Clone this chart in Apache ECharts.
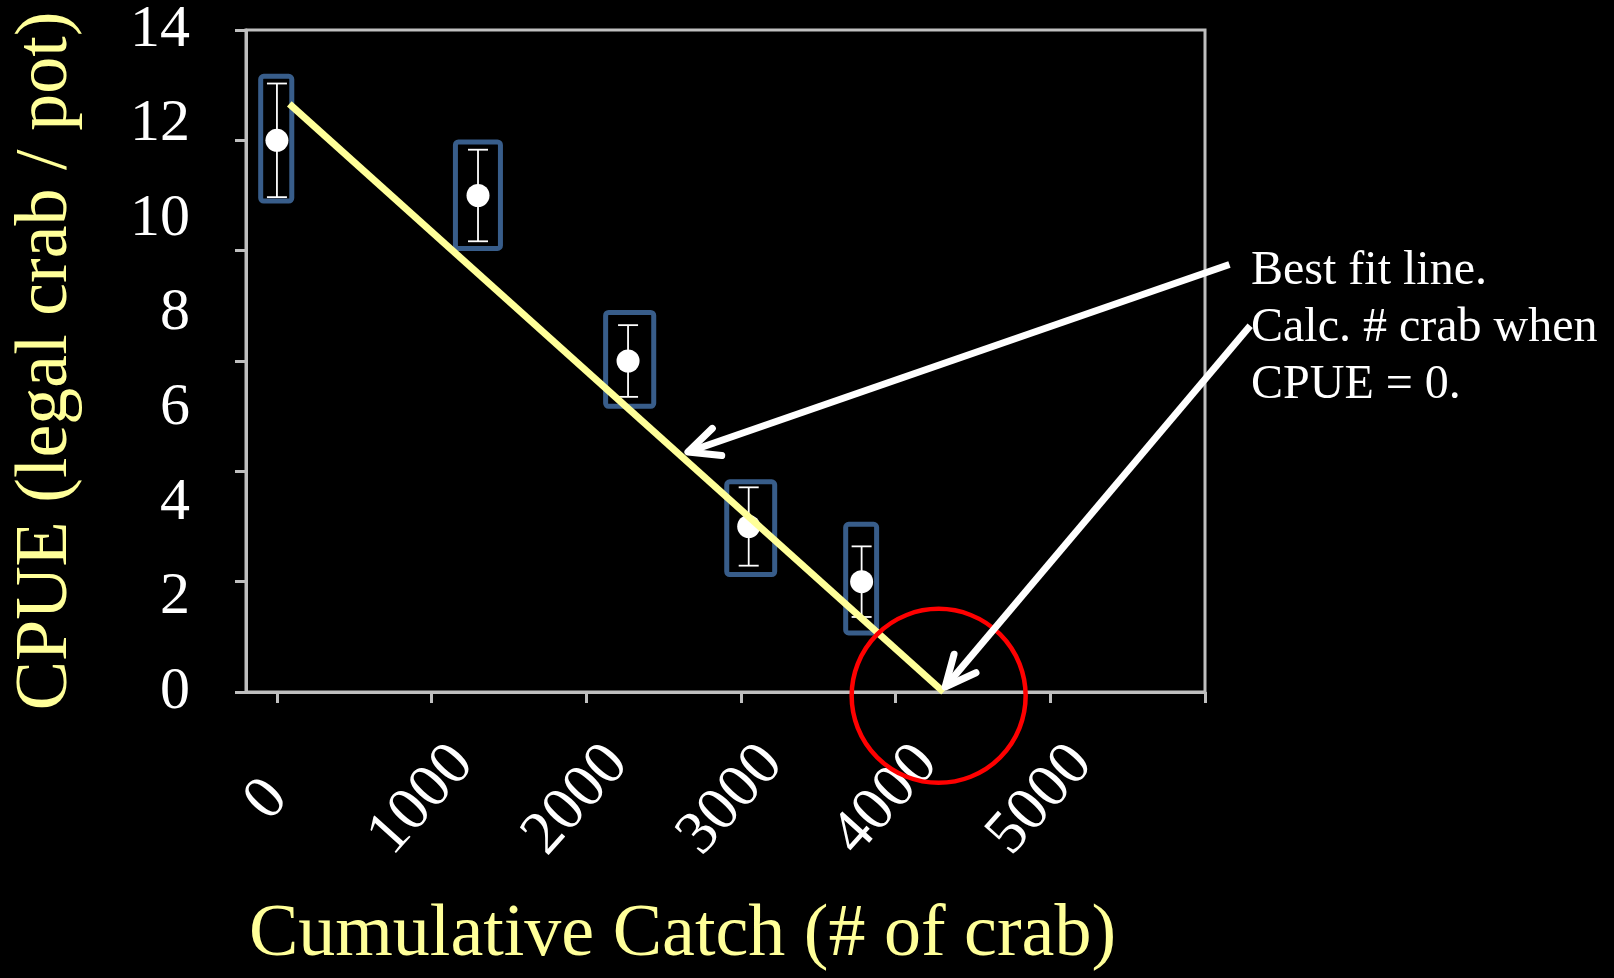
<!DOCTYPE html>
<html><head><meta charset="utf-8">
<script src="https://cdn.jsdelivr.net/npm/echarts@6/dist/echarts.min.js"></script>
<style>html,body{margin:0;padding:0;background:#000;}#chart{width:1614px;height:978px;}</style>
</head><body><div id="chart"></div>
<script>
// ---- data ----
const cumulativeCatch = [0, 1300, 2270, 3050, 3780];
const cpue = [10, 9, 6, 3, 2];
const cpueError = [1.03, 0.83, 0.65, 0.71, 0.64];
// highlight boxes around each point (data units)
const boxLeft = [-105, 1154, 2125, 2908, 3677];
const boxRight = [96, 1445, 2436, 3218, 3877];
const boxTop = [11.16, 9.97, 6.88, 3.81, 3.04];
const boxBottom = [8.90, 8.04, 5.18, 2.13, 1.07];
// hand-drawn best-fit line
const fitLineX = [80, 4310];
const fitLineY = [10.66, 0];
// tick / label values
const xTickValues = [0, 1000, 2000, 3000, 4000, 5000, 6000];
const xLabelValues = [0, 1000, 2000, 3000, 4000, 5000];
const yLabelValues = [0, 2, 4, 6, 8, 10, 12, 14];
// annotation arrows (data units)
const arrowFromX = [6158, 6292];
const arrowFromY = [7.75, 6.64];
const arrowToX = [2657, 4320];
const arrowToY = [4.35, 0.09];
// red circle centre (data units)
const circleX = [4278];
const circleY = [-0.07];
const noteLines = ['Best fit line.', 'Calc. # crab when', 'CPUE = 0.'];
const xTitle = 'Cumulative Catch (# of crab)';
const yTitle = 'CPUE (legal crab / pot)';

// ---- chart ----
const FONT = "'Liberation Serif', 'Times New Roman', serif";
const AXIS_GRAY = '#BFBFBF';
const YELLOW = '#FFFF99';
const chart = echarts.init(document.getElementById('chart'));
const points = cumulativeCatch.map((x, i) => [x, cpue[i]]);

const option = {
  backgroundColor: '#000',
  animation: false,
  grid: { left: 246, top: 25, width: 959, height: 672, show: true, borderColor: AXIS_GRAY, borderWidth: 3, backgroundColor: '#000' },
  xAxis: {
    type: 'value', min: -200, max: 6000,
    axisLine: { show: true, onZero: false, lineStyle: { color: AXIS_GRAY, width: 3 } },
    axisTick: { show: true, customValues: xTickValues, length: 11, lineStyle: { color: AXIS_GRAY, width: 3 } },
    axisLabel: { show: true, customValues: xLabelValues, rotate: 48, align: 'center', verticalAlign: 'middle', margin: 97,
      padding: [0, 30, 0, 0], color: '#fff', fontFamily: FONT, fontSize: 62, formatter: (v) => String(v) },
    splitLine: { show: false },
    name: xTitle, nameLocation: 'middle', nameGap: 207,
    nameTextStyle: { color: YELLOW, fontFamily: FONT, fontSize: 74, padding: [0, 86, 0, 0] }
  },
  yAxis: [
    {
      type: 'value', min: 0, max: 12, interval: 2,
      axisLine: { show: true, onZero: false, lineStyle: { color: AXIS_GRAY, width: 3 } },
      axisTick: { show: true, length: 11, lineStyle: { color: AXIS_GRAY, width: 3 } },
      axisLabel: { show: false },
      splitLine: { show: false },
      name: yTitle, nameLocation: 'middle', nameGap: 162,
      nameTextStyle: { color: YELLOW, fontFamily: FONT, fontSize: 74 }
    },
    {
      type: 'value', min: 0, max: 14, interval: 2, position: 'left',
      axisLine: { show: false, onZero: false }, axisTick: { show: false }, splitLine: { show: false },
      axisLabel: { show: true, customValues: yLabelValues, margin: 56, color: '#fff', fontFamily: FONT, fontSize: 60 }
    }
  ],
  graphic: [{
    type: 'text', left: 1251, top: 243, silent: true,
    style: { text: noteLines.join('\n'), fill: '#fff', font: "48px " + FONT, lineHeight: 57 }
  }],
  series: [
    {
      type: 'custom', silent: true, z: 2, clip: false,
      data: points,
      renderItem(params, api) {
        const i = params.dataIndex;
        const p1 = api.coord([boxLeft[i], boxTop[i]]);
        const p2 = api.coord([boxRight[i], boxBottom[i]]);
        return { type: 'rect', shape: { x: p1[0], y: p1[1], width: p2[0] - p1[0], height: p2[1] - p1[1], r: 3 },
          style: { fill: 'none', stroke: '#385D8A', lineWidth: 5 } };
      }
    },
    {
      type: 'custom', silent: true, z: 3,
      data: points,
      renderItem(params, api) {
        const i = params.dataIndex;
        const t = api.coord([cumulativeCatch[i], cpue[i] + cpueError[i]]);
        const b = api.coord([cumulativeCatch[i], cpue[i] - cpueError[i]]);
        const st = { stroke: '#fff', lineWidth: 1.8 };
        return { type: 'group', children: [
          { type: 'line', shape: { x1: t[0], y1: t[1], x2: b[0], y2: b[1] }, style: st },
          { type: 'line', shape: { x1: t[0] - 10, y1: t[1], x2: t[0] + 10, y2: t[1] }, style: st },
          { type: 'line', shape: { x1: b[0] - 10, y1: b[1], x2: b[0] + 10, y2: b[1] }, style: st }
        ] };
      }
    },
    {
      type: 'scatter', silent: true, z: 4, data: points, symbol: 'circle', symbolSize: 23,
      itemStyle: { color: '#fff', opacity: 1 }
    },
    {
      type: 'line', silent: true, z: 5, data: fitLineX.map((x, i) => [x, fitLineY[i]]),
      symbol: 'none', lineStyle: { color: YELLOW, width: 7, cap: 'butt', opacity: 1 }
    },
    {
      type: 'custom', silent: true, z: 6, clip: false,
      data: circleX.map((x, i) => [x, circleY[i]]),
      renderItem(params, api) {
        const c = api.coord([circleX[params.dataIndex], circleY[params.dataIndex]]);
        return { type: 'circle', shape: { cx: c[0], cy: c[1], r: 87 }, style: { fill: 'none', stroke: '#FF0000', lineWidth: 4.5 } };
      }
    },
    {
      type: 'custom', silent: true, z: 7, clip: false,
      data: arrowFromX.map((x, i) => [x, arrowFromY[i]]),
      renderItem(params, api) {
        const i = params.dataIndex;
        const s = api.coord([arrowFromX[i], arrowFromY[i]]);
        const e = api.coord([arrowToX[i], arrowToY[i]]);
        const ang = Math.atan2(s[1] - e[1], s[0] - e[0]);
        const L = 34, spread = 25 * Math.PI / 180;
        const a1 = [e[0] + L * Math.cos(ang - spread), e[1] + L * Math.sin(ang - spread)];
        const a2 = [e[0] + L * Math.cos(ang + spread), e[1] + L * Math.sin(ang + spread)];
        const st = { stroke: '#fff', lineWidth: 7, lineCap: 'round', lineJoin: 'round', fill: 'none' };
        return { type: 'group', children: [
          { type: 'line', shape: { x1: s[0], y1: s[1], x2: e[0], y2: e[1] }, style: Object.assign({}, st, { lineCap: 'butt' }) },
          { type: 'polyline', shape: { points: [a1, e, a2] }, style: st }
        ] };
      }
    }
  ]
};
chart.setOption(option);
</script>
</body></html>
